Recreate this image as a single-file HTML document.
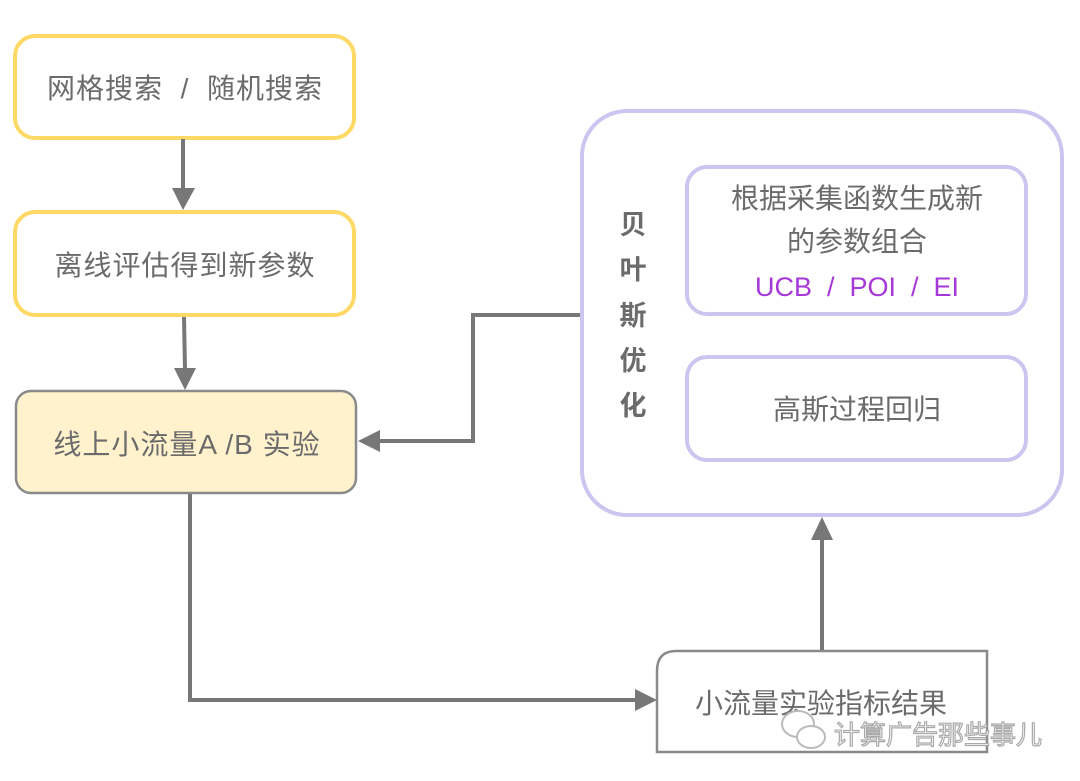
<!DOCTYPE html>
<html><head><meta charset="utf-8"><style>
html,body{margin:0;padding:0;background:#fff;}
svg{display:block;}
text{font-family:"Liberation Sans","Noto Sans CJK SC",sans-serif;fill:#6b6b6b;}
</style></head><body>
<svg width="1080" height="781" viewBox="0 0 1080 781" xmlns="http://www.w3.org/2000/svg">
<!-- boxes -->
<rect x="15" y="36" width="339" height="102" rx="20" fill="#fff" stroke="#FFD966" stroke-width="4"/>
<text x="185" y="98" font-size="28" letter-spacing="1" text-anchor="middle" xml:space="preserve">网格搜索  /  随机搜索</text>
<rect x="15" y="212" width="339" height="103" rx="20" fill="#fff" stroke="#FFD966" stroke-width="4"/>
<text x="185" y="275" font-size="28" letter-spacing="1" text-anchor="middle">离线评估得到新参数</text>
<rect x="16" y="391" width="340" height="102" rx="15" fill="#FFF2CC" stroke="#8a8a8a" stroke-width="2.5"/>
<text x="187" y="454" font-size="28" letter-spacing="1" text-anchor="middle">线上小流量A /B 实验</text>

<rect x="582" y="111" width="480" height="404" rx="45" fill="#fff" stroke="#CBC6F0" stroke-width="4"/>
<rect x="687" y="167" width="339" height="147" rx="20" fill="#fff" stroke="#CBC6F0" stroke-width="4"/>
<text x="857" y="208" font-size="28" text-anchor="middle">根据采集函数生成新</text>
<text x="857" y="251" font-size="28" text-anchor="middle">的参数组合</text>
<text x="857" y="296" font-size="27" text-anchor="middle" style="fill:#A637D9" xml:space="preserve">UCB  /  POI  /  EI</text>
<rect x="687" y="357" width="339" height="103" rx="20" fill="#fff" stroke="#CBC6F0" stroke-width="4"/>
<text x="857" y="419" font-size="28" text-anchor="middle">高斯过程回归</text>
<g font-size="27" text-anchor="middle" font-weight="bold">
<text x="633" y="234">贝</text><text x="633" y="279">叶</text><text x="633" y="325">斯</text><text x="633" y="370">优</text><text x="633" y="415">化</text>
</g>

<path d="M676 651 H987 V752 H657 V671 Q657 651 676 651 Z" fill="#fff" stroke="#8a8a8a" stroke-width="2.5"/>
<text x="821" y="713" font-size="28" text-anchor="middle">小流量实验指标结果</text>

<!-- connectors -->
<g stroke="#777" stroke-width="4" fill="none">
<line x1="183" y1="139" x2="183" y2="190"/>
<line x1="184" y1="317" x2="185" y2="370"/>
<polyline points="580,315 473,315 473,441 378,441"/>
<polyline points="190,494 190,700 637,700"/>
<line x1="822" y1="650" x2="822" y2="538"/>
</g>
<g fill="#777">
<polygon points="172,188 195,188 183,210"/>
<polygon points="174,368 196,368 185,390"/>
<polygon points="380,430 380,452 358,441"/>
<polygon points="635,689 635,711 657,700"/>
<polygon points="811,540 833,540 822,517"/>
</g>

<!-- watermark -->
<g fill="#fff" stroke="#bbb" stroke-width="2">
<ellipse cx="798" cy="724" rx="16" ry="13"/>
<ellipse cx="811" cy="737" rx="14" ry="11"/>
</g>
<text x="938" y="744" font-size="26" text-anchor="middle" style="fill:#fff;stroke:#aaa;stroke-width:1.2">计算广告那些事儿</text>
</svg>
</body></html>
